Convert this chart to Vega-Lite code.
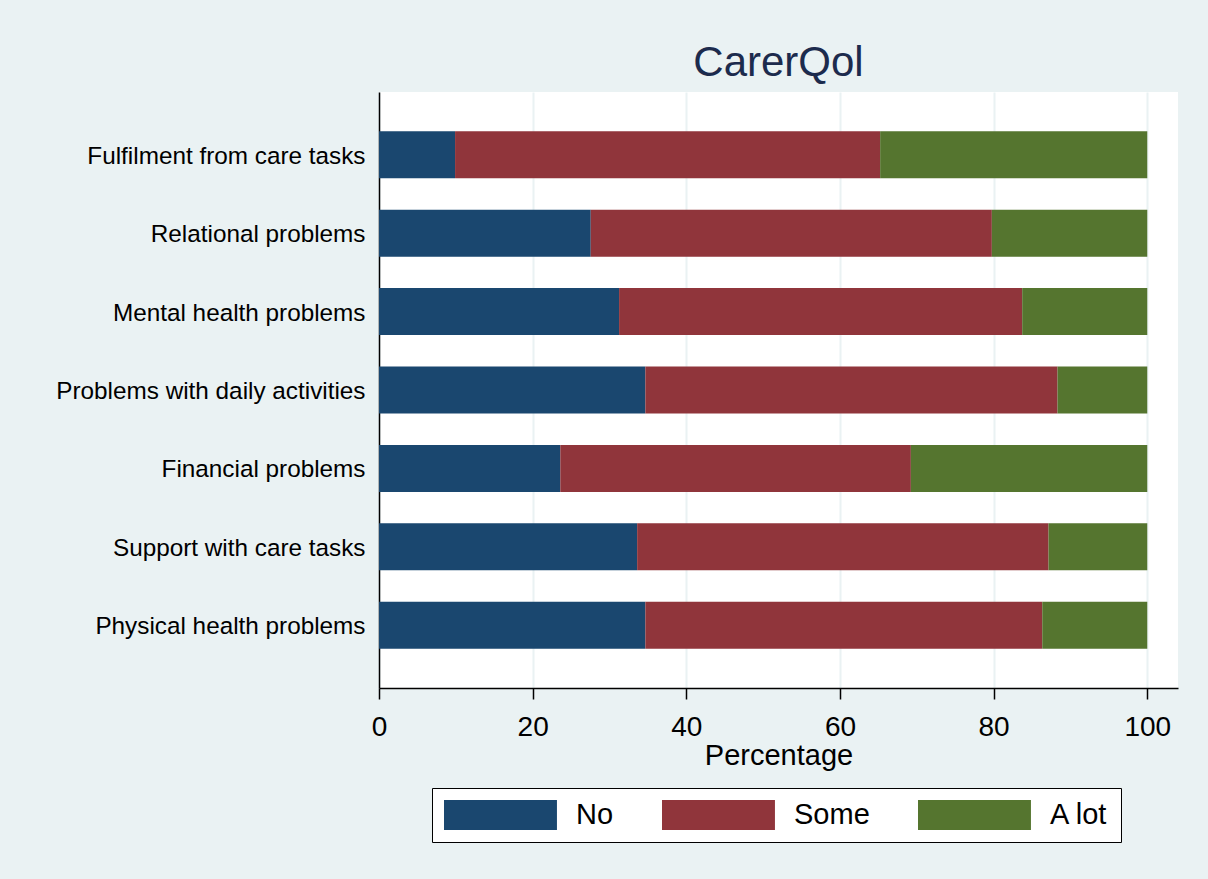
{
  "$schema": "https://vega.github.io/schema/vega-lite/v6.json",
  "autosize": {"type": "none"},
  "padding": {"left": 379, "top": 92, "right": 30, "bottom": 191},
  "width": 799,
  "height": 596,
  "background": "#EAF2F3",
  "title": {
    "text": "CarerQol",
    "anchor": "middle",
    "font": "Liberation Sans",
    "fontSize": 42,
    "fontWeight": "normal",
    "color": "#1C2B4D",
    "baseline": "alphabetic",
    "offset": 13,
    "dy": 39
  },
  "config": {
    "view": {"fill": "white", "stroke": null},
    "font": "Liberation Sans"
  },
  "data": {
    "values": [
      {"item": "Fulfilment from care tasks", "response": "No", "value": 9.9},
      {"item": "Fulfilment from care tasks", "response": "Some", "value": 55.33},
      {"item": "Fulfilment from care tasks", "response": "A lot", "value": 34.77},
      {"item": "Relational problems", "response": "No", "value": 27.56},
      {"item": "Relational problems", "response": "Some", "value": 52.21},
      {"item": "Relational problems", "response": "A lot", "value": 20.23},
      {"item": "Mental health problems", "response": "No", "value": 31.25},
      {"item": "Mental health problems", "response": "Some", "value": 52.47},
      {"item": "Mental health problems", "response": "A lot", "value": 16.28},
      {"item": "Problems with daily activities", "response": "No", "value": 34.67},
      {"item": "Problems with daily activities", "response": "Some", "value": 53.65},
      {"item": "Problems with daily activities", "response": "A lot", "value": 11.68},
      {"item": "Financial problems", "response": "No", "value": 23.6},
      {"item": "Financial problems", "response": "Some", "value": 45.63},
      {"item": "Financial problems", "response": "A lot", "value": 30.77},
      {"item": "Support with care tasks", "response": "No", "value": 33.6},
      {"item": "Support with care tasks", "response": "Some", "value": 53.55},
      {"item": "Support with care tasks", "response": "A lot", "value": 12.85},
      {"item": "Physical health problems", "response": "No", "value": 34.67},
      {"item": "Physical health problems", "response": "Some", "value": 51.66},
      {"item": "Physical health problems", "response": "A lot", "value": 13.67}
    ]
  },
  "transform": [
    {"calculate": "datum.response === 'No' ? 0 : (datum.response === 'Some' ? 1 : 2)", "as": "ord"}
  ],
  "mark": {"type": "bar"},
  "encoding": {
    "y": {
      "field": "item",
      "type": "nominal",
      "sort": ["Fulfilment from care tasks", "Relational problems", "Mental health problems", "Problems with daily activities", "Financial problems", "Support with care tasks", "Physical health problems"],
      "scale": {"paddingInner": 0.4, "paddingOuter": 0.5},
      "axis": {
        "title": null,
        "domainColor": "#000000",
        "domainWidth": 1.5,
        "ticks": false,
        "labelPadding": 14,
        "labelFontSize": 24.3,
        "labelColor": "#000000",
        "labelLimit": 400,
        "labelOffset": 2
      }
    },
    "x": {
      "field": "value",
      "type": "quantitative",
      "stack": "zero",
      "scale": {"domain": [0, 104], "nice": false, "zero": true},
      "axis": {
        "title": "Percentage",
        "values": [0, 20, 40, 60, 80, 100],
        "grid": true,
        "gridColor": "#EAF2F3",
        "gridWidth": 2,
        "domainColor": "#000000",
        "domainWidth": 1.5,
        "tickColor": "#000000",
        "tickWidth": 1.5,
        "tickSize": 11,
        "labelFlush": false,
        "labelPadding": 14,
        "labelFontSize": 28,
        "labelColor": "#000000",
        "titleFontSize": 29,
        "titleFontWeight": "normal",
        "titleColor": "#000000",
        "titlePadding": 0
      }
    },
    "color": {
      "field": "response",
      "type": "nominal",
      "scale": {"domain": ["No", "Some", "A lot"], "range": ["#1A476F", "#90353B", "#55752F"]},
      "legend": {
        "title": null,
        "orient": "none",
        "direction": "horizontal",
        "legendX": 53,
        "legendY": 696,
        "fillColor": "white",
        "strokeColor": "#000000",
        "padding": 12,
        "symbolType": "M-1,-1L6.53,-1L6.53,1L-1,1Z",
        "symbolSize": 900,
        "symbolStrokeWidth": 0,
        "symbolOpacity": 1,
        "labelFontSize": 29,
        "labelColor": "#000000",
        "labelOffset": 102,
        "columnPadding": 48
      }
    },
    "order": {"field": "ord", "type": "quantitative"}
  }
}
